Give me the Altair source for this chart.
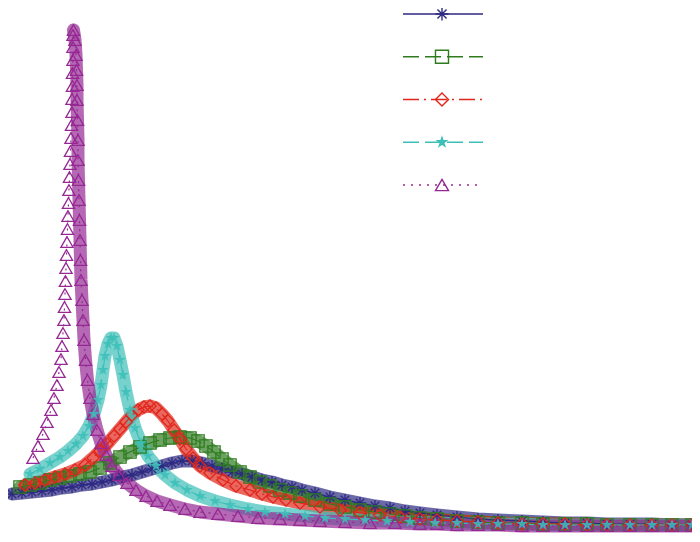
import altair as alt
import pandas as pd

names = ["s1", "s2", "s3", "s4", "s5"]
colors = ["#2d2a82", "#2f7c1f", "#e0261b", "#3dbfb8", "#952893"]

# series 1 (asterisk, solid)
x1 = [0.12, 0.22, 0.32, 0.42, 0.52, 0.62, 0.72, 0.82, 0.92, 1.02, 1.12, 1.22, 1.32, 1.42, 1.52,
      1.62, 1.72, 1.82, 1.92, 2.02, 2.12, 2.22, 2.32, 2.42, 2.52, 2.62, 2.72, 2.82, 2.92, 3.02,
      3.15, 3.30, 3.45, 3.60, 3.75, 3.90, 4.05, 4.20, 4.37, 4.57, 4.78, 4.98, 5.22, 5.43, 5.65,
      5.87, 6.07, 6.30, 6.52, 6.72, 6.92]
y1 = [0.36, 0.37, 0.38, 0.39, 0.40, 0.42, 0.43, 0.45, 0.46, 0.48, 0.50, 0.53, 0.55, 0.58, 0.61,
      0.64, 0.67, 0.69, 0.69, 0.67, 0.64, 0.61, 0.58, 0.56, 0.53, 0.50, 0.48, 0.45, 0.43, 0.40,
      0.37, 0.33, 0.30, 0.27, 0.24, 0.22, 0.19, 0.17, 0.15, 0.13, 0.11, 0.10, 0.09, 0.08, 0.07,
      0.07, 0.06, 0.06, 0.06, 0.05, 0.05]

# series 2 (square, dashed)
x2 = [0.20, 0.30, 0.40, 0.50, 0.60, 0.70, 0.80, 0.90, 1.00, 1.10, 1.20, 1.30, 1.40, 1.50, 1.60,
      1.70, 1.80, 1.90, 1.98, 2.06, 2.14, 2.22, 2.30, 2.40, 2.50, 2.60, 2.70, 2.80, 2.90, 3.00,
      3.15, 3.30, 3.45, 3.60, 3.75, 3.90, 4.05, 4.20, 4.37, 4.57, 4.78, 4.98, 5.22, 5.43, 5.65,
      5.87, 6.07, 6.30, 6.52, 6.72, 6.92]
y2 = [0.43, 0.45, 0.47, 0.50, 0.52, 0.54, 0.56, 0.58, 0.62, 0.67, 0.73, 0.78, 0.83, 0.87, 0.90,
      0.92, 0.93, 0.92, 0.89, 0.84, 0.78, 0.71, 0.65, 0.58, 0.53, 0.48, 0.44, 0.40, 0.37, 0.34,
      0.30, 0.26, 0.23, 0.20, 0.18, 0.16, 0.14, 0.12, 0.11, 0.09, 0.08, 0.07, 0.07, 0.06, 0.06,
      0.06, 0.05, 0.05, 0.05, 0.05, 0.05]

# series 3 (diamond, dash-dot)
x3 = [0.25, 0.35, 0.45, 0.55, 0.65, 0.75, 0.85, 0.93, 1.00, 1.07, 1.14, 1.20, 1.26, 1.32, 1.38,
      1.44, 1.50, 1.56, 1.62, 1.68, 1.74, 1.80, 1.86, 1.93, 2.00, 2.10, 2.23, 2.36, 2.50, 2.62,
      2.73, 2.86, 3.00, 3.20, 3.40, 3.60, 3.80, 4.00, 4.20, 4.37, 4.57, 4.78, 4.98, 5.22, 5.43,
      5.65, 5.87, 6.07, 6.30, 6.52, 6.72, 6.92]
y3 = [0.45, 0.47, 0.50, 0.53, 0.56, 0.60, 0.65, 0.72, 0.79, 0.86, 0.94, 1.01, 1.08, 1.15, 1.20,
      1.23, 1.24, 1.22, 1.16, 1.09, 1.00, 0.91, 0.81, 0.72, 0.64, 0.57, 0.50, 0.44, 0.40, 0.36,
      0.33, 0.30, 0.27, 0.23, 0.20, 0.17, 0.15, 0.13, 0.11, 0.10, 0.09, 0.08, 0.07, 0.06, 0.06,
      0.06, 0.05, 0.05, 0.05, 0.05, 0.05, 0.05]

# series 4 (star, dashed)
x4 = [0.30, 0.40, 0.50, 0.60, 0.68, 0.76, 0.83, 0.89, 0.94, 0.98, 1.01, 1.03, 1.05, 1.08, 1.11,
      1.14, 1.17, 1.20, 1.23, 1.26, 1.30, 1.35, 1.41, 1.48, 1.56, 1.65, 1.75, 1.87, 2.00, 2.15,
      2.30, 2.48, 2.65, 2.85, 3.05, 3.25, 3.45, 3.65, 3.87, 4.10, 4.35, 4.57, 4.78, 4.98, 5.22,
      5.43, 5.65, 5.87, 6.07, 6.30, 6.52, 6.72, 6.92]
y4 = [0.56, 0.61, 0.67, 0.73, 0.79, 0.86, 0.94, 1.04, 1.16, 1.30, 1.45, 1.60, 1.74, 1.86, 1.92,
      1.92, 1.84, 1.70, 1.55, 1.38, 1.20, 1.02, 0.87, 0.74, 0.64, 0.55, 0.47, 0.40, 0.34, 0.29,
      0.25, 0.21, 0.18, 0.16, 0.14, 0.12, 0.11, 0.10, 0.09, 0.08, 0.07, 0.07, 0.06, 0.06, 0.06,
      0.05, 0.05, 0.05, 0.05, 0.05, 0.05, 0.05, 0.05]

# series 5 (triangle, dotted)
x5 = [0.33, 0.38, 0.43, 0.47, 0.51, 0.54, 0.57, 0.59, 0.61, 0.62, 0.63, 0.64, 0.645, 0.65, 0.655,
      0.66, 0.665, 0.67, 0.675, 0.68, 0.685, 0.69, 0.695, 0.70, 0.705, 0.71, 0.715, 0.72, 0.72,
      0.725, 0.725, 0.73, 0.73, 0.73, 0.735,
      0.75, 0.76, 0.765, 0.77, 0.77, 0.775, 0.78, 0.78, 0.785, 0.79, 0.795, 0.80, 0.805, 0.81,
      0.82, 0.83, 0.84, 0.855, 0.875, 0.90, 0.93, 0.97, 1.01, 1.06, 1.12, 1.19, 1.27, 1.36, 1.46,
      1.57, 1.70, 1.85, 2.00, 2.18, 2.38, 2.58, 2.80, 3.00, 3.20, 3.45, 3.70, 3.95, 4.20, 4.37,
      4.57, 4.78, 4.98, 5.22, 5.43, 5.65, 5.87, 6.07, 6.30, 6.52, 6.72, 6.92]
y5 = [0.72, 0.84, 0.96, 1.08, 1.20, 1.32, 1.45, 1.58, 1.71, 1.84, 1.97, 2.10, 2.23, 2.36, 2.49,
      2.62, 2.75, 2.88, 3.01, 3.14, 3.27, 3.40, 3.53, 3.66, 3.79, 3.92, 4.05, 4.18, 4.31,
      4.44, 4.57, 4.70, 4.83, 4.95, 5.00,
      4.90, 4.75, 4.60, 4.45, 4.30, 4.10, 3.90, 3.70, 3.50, 3.30, 3.10, 2.90, 2.70, 2.50,
      2.30, 2.10, 1.90, 1.70, 1.50, 1.32, 1.16, 1.00, 0.87, 0.75, 0.64, 0.55, 0.47, 0.40, 0.34,
      0.29, 0.25, 0.21, 0.18, 0.16, 0.14, 0.12, 0.11, 0.10, 0.09, 0.08, 0.07, 0.07, 0.06, 0.06,
      0.05, 0.05, 0.05, 0.04, 0.04, 0.04, 0.04, 0.04, 0.04, 0.04, 0.04, 0.04]

peak5_x = 0.735

xs = [x1, x2, x3, x4, x5]
ys = [y1, y2, y3, y4, y5]
rows = []
for name, xv, yv in zip(names, xs, ys):
    for i, (a, b) in enumerate(zip(xv, yv)):
        rows.append({"series": name, "i": i, "x": a, "y": b})
df = pd.DataFrame(rows)
leg = pd.DataFrame({"series": names, "k": list(range(len(names)))})

asterisk = "M-1,0L1,0M0,-1L0,1M-0.7,-0.7L0.7,0.7M-0.7,0.7L0.7,-0.7"
star = ("M0,-1L0.2245,-0.309L0.951,-0.309L0.3633,0.118L0.5878,0.809L0,0.382"
        "L-0.5878,0.809L-0.3633,0.118L-0.951,-0.309L-0.2245,-0.309Z")

color = alt.Color("series:N", scale=alt.Scale(domain=names, range=colors), legend=None)
shape = alt.Shape("series:N", scale=alt.Scale(domain=names,
                  range=[asterisk, "square", "diamond", star, "triangle-up"]), legend=None)
dash = alt.StrokeDash("series:N", scale=alt.Scale(domain=names,
                      range=[[1, 0], [16, 6], [16, 5, 2, 5], [16, 6], [2, 6]]), legend=None)

X = alt.X("x:Q", scale=alt.Scale(domain=[0.08, 6.92], nice=False, zero=False), axis=None)
Y = alt.Y("y:Q", scale=alt.Scale(domain=[-0.04, 5.22], nice=False, zero=False), axis=None)

noview = alt.ViewBackground(stroke="transparent", strokeOpacity=0)

base = alt.Chart(df)

band = base.transform_filter(
    f"datum.series != 's5' || datum.x >= {peak5_x}"
).mark_line(strokeWidth=13, strokeCap="round", strokeJoin="round", clip=False).encode(
    x=X, y=Y, color=color, detail="series:N", order="i:Q",
    opacity=alt.Opacity("series:N", scale=alt.Scale(domain=names, range=[0.7, 0.7, 0.7, 0.7, 0.92]),
                        legend=None),
)

thin = base.mark_line(strokeWidth=1.2, clip=False).encode(
    x=X, y=Y, color=color, strokeDash=dash, order="i:Q"
)

pts_open = base.transform_filter("datum.series != 's4'").mark_point(
    filled=False, size=150, strokeWidth=1.3, opacity=1, clip=False
).encode(x=X, y=Y, color=color, shape=shape)

pts_star = base.transform_filter("datum.series == 's4'").mark_point(
    filled=True, size=150, opacity=0.85, clip=False
).encode(x=X, y=Y, color=color, shape=shape)

LY = alt.Y("k:Q", scale=alt.Scale(domain=[0, 4], range=[6, 177]), axis=None)
leg_line = alt.Chart(leg).mark_rule(strokeWidth=1.5).encode(
    x=alt.value(395), x2=alt.value(475), y=LY, color=color, strokeDash=dash
)
leg_pt = alt.Chart(leg).transform_filter("datum.series != 's4'").mark_point(
    filled=False, size=170, strokeWidth=1.4, opacity=1
).encode(x=alt.value(434), y=LY, color=color, shape=shape)
leg_star = alt.Chart(leg).transform_filter("datum.series == 's4'").mark_point(
    filled=True, size=190, opacity=1
).encode(x=alt.value(434), y=LY, color=color, shape=shape)

main = alt.layer(band, thin, pts_open, pts_star).properties(view=noview)
legend_layer = alt.layer(leg_line, leg_pt, leg_star).properties(view=noview)

chart = alt.layer(main, legend_layer).resolve_scale(y="independent").properties(
    width=684, height=526, padding=0, autosize="none", view=noview
).configure_view(stroke="transparent", strokeOpacity=0, strokeWidth=0).configure(background="white")

chart.save("out.html", embed_options={"renderer": "svg", "actions": False})
